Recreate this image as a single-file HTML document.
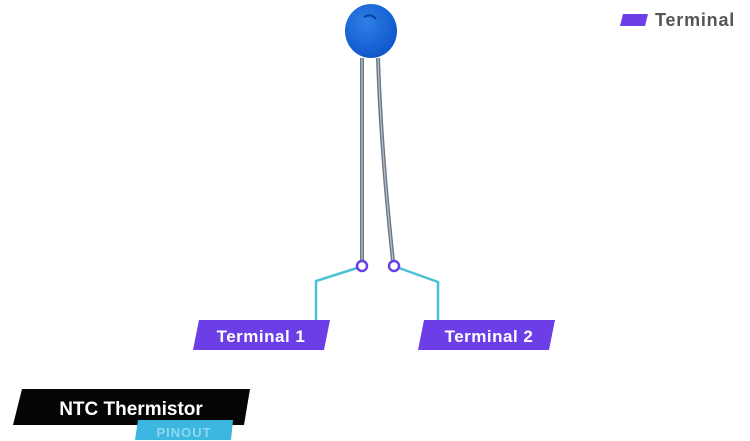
<!DOCTYPE html>
<html><head><meta charset="utf-8"><style>
html,body{margin:0;padding:0;background:#fff;}
svg{display:block;font-family:"Liberation Sans",sans-serif;}
</style></head><body>
<svg width="750" height="441" viewBox="0 0 750 441" xmlns="http://www.w3.org/2000/svg">
<defs>
<radialGradient id="b" cx="0.4" cy="0.35" r="0.7">
<stop offset="0" stop-color="#2f7fe8"/><stop offset="1" stop-color="#0d55c9"/>
</radialGradient>
</defs>
<path d="M362 58 L362 261" stroke="#6b7785" stroke-width="4" fill="none"/>
<path d="M362 58 L362 261" stroke="#b8c2cc" stroke-width="1.2" fill="none"/>
<path d="M378 58 Q381 150 393 261" stroke="#6b7785" stroke-width="4" fill="none"/>
<path d="M378 58 Q381 150 393 261" stroke="#b8c2cc" stroke-width="1.2" fill="none"/>
<ellipse cx="371" cy="31" rx="26" ry="27" fill="url(#b)"/>
<path d="M364 17 q7 -4 12 2" stroke="#0a3f99" stroke-width="2" fill="none"/>
<polyline points="357,268 316,281 316,322" fill="none" stroke="#4cc0d6" stroke-width="2.5"/>
<polyline points="399,268 438,282 438,322" fill="none" stroke="#4cc0d6" stroke-width="2.5"/>
<circle cx="362" cy="266" r="5" fill="#fff" stroke="#6a3fe0" stroke-width="2.5"/>
<circle cx="394" cy="266" r="5" fill="#fff" stroke="#6a3fe0" stroke-width="2.5"/>
<polygon points="199,320 330,320 324,350 193,350" fill="#6c3ee8"/>
<text x="261" y="342" text-anchor="middle" fill="#fff" font-size="17" font-weight="bold" letter-spacing="0.5">Terminal 1</text>
<polygon points="424,320 555,320 549,350 418,350" fill="#6c3ee8"/>
<text x="489" y="342" text-anchor="middle" fill="#fff" font-size="17" font-weight="bold" letter-spacing="0.5">Terminal 2</text>
<polygon points="623,14 648,14 645,26 620,26" fill="#6c3ee8"/>
<text x="655" y="26" fill="#555" font-size="18" font-weight="bold" letter-spacing="0.8">Terminal</text>
<polygon points="22,389 250,389 244,425 13,425" fill="#050505"/>
<polygon points="138,420 233,420 231,440 135,440" fill="#3cb8e0"/>
<text x="184" y="437" text-anchor="middle" fill="#8fd6ee" font-size="13" font-weight="bold" letter-spacing="1">PINOUT</text>
<text x="131" y="415" text-anchor="middle" fill="#fff" font-size="19" font-weight="bold">NTC Thermistor</text>
</svg>
</body></html>
